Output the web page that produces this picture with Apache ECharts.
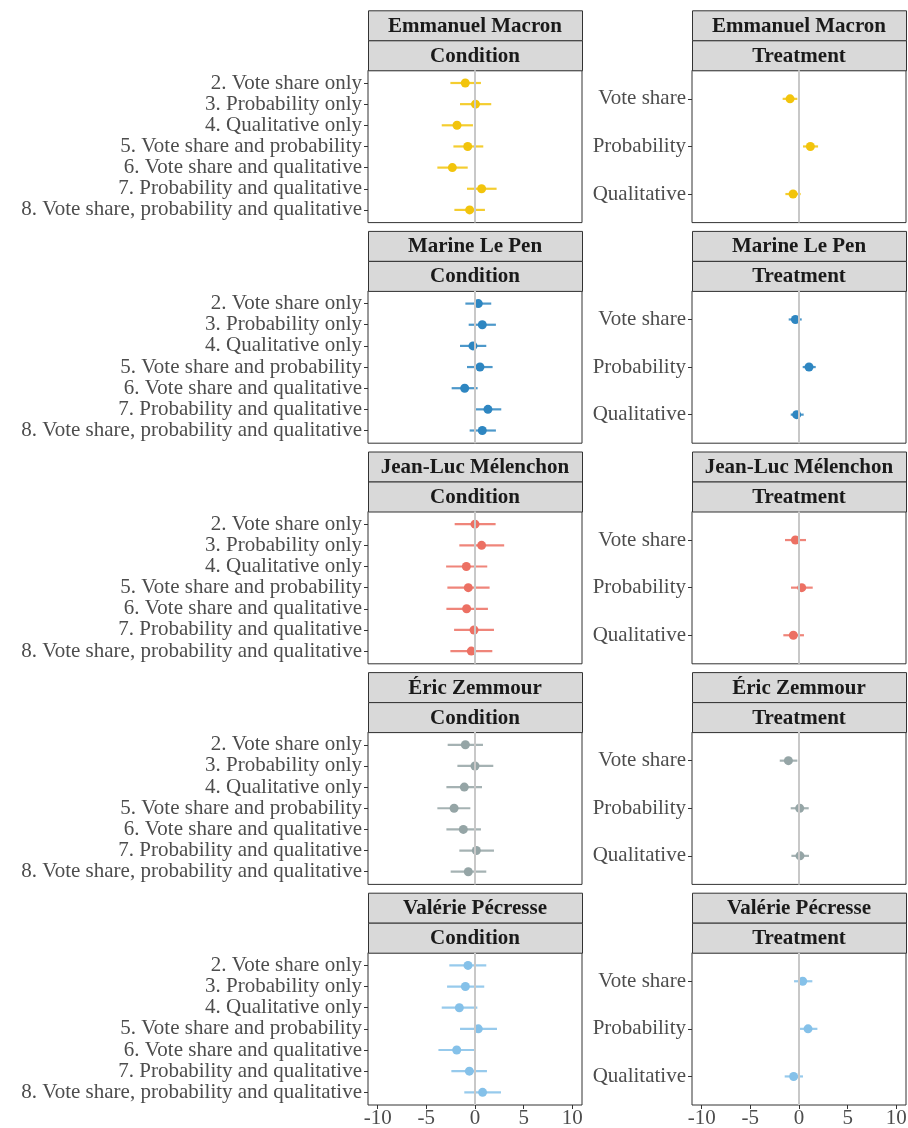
<!DOCTYPE html>
<html lang="en">
<head>
	<meta charset="UTF-8">
	<title>Condition / Treatment effects</title>
	<style>
	body, div {
		margin: 0;
		padding: 0;
	}
	#echart {
		width: 908px;
		height: 1128px;
		background: #fff;
	}
	</style>
</head>
<body>
	<div id="echart"></div>

	<script src="https://cdn.jsdelivr.net/npm/echarts@6/dist/echarts.min.js"></script>

	<script>
// ---- data ----
var candidates = ['Emmanuel Macron', 'Marine Le Pen', 'Jean-Luc Mélenchon', 'Éric Zemmour', 'Valérie Pécresse'];
var colors = ['#F2C40C', '#2E86C1', '#EC7063', '#95A5A6', '#85C1E9'];

var conditionLabels = [
	'2. Vote share only',
	'3. Probability only',
	'4. Qualitative only',
	'5. Vote share and probability',
	'6. Vote share and qualitative',
	'7. Probability and qualitative',
	'8. Vote share, probability and qualitative'
];
var treatmentLabels = ['Vote share', 'Probability', 'Qualitative'];
var xTicks = [-10, -5, 0, 5, 10];

// one row per candidate, same order as candidates
var condEst = [
	[-1.0, 0.05, -1.85, -0.75, -2.33, 0.68, -0.55],
	[0.34, 0.75, -0.21, 0.51, -1.06, 1.33, 0.75],
	[0.0, 0.68, -0.89, -0.69, -0.86, -0.1, -0.38],
	[-0.99, 0.0, -1.1, -2.15, -1.2, 0.14, -0.69],
	[-0.72, -0.99, -1.61, 0.34, -1.88, -0.58, 0.78]
];
var condLow = [
	[-2.53, -1.54, -3.42, -2.22, -3.87, -0.82, -2.12],
	[-0.99, -0.65, -1.54, -0.82, -2.4, 0.03, -0.55],
	[-2.09, -1.61, -2.97, -2.84, -2.94, -2.15, -2.53],
	[-2.81, -1.81, -2.94, -3.87, -2.94, -1.61, -2.5],
	[-2.64, -2.87, -3.42, -1.54, -3.76, -2.43, -1.1]
];
var condHigh = [
	[0.61, 1.67, -0.21, 0.85, -0.75, 2.22, 1.02],
	[1.67, 2.15, 1.16, 1.81, 0.27, 2.7, 2.15],
	[2.12, 3.0, 1.26, 1.5, 1.33, 1.95, 1.78],
	[0.82, 1.88, 0.72, -0.48, 0.61, 1.95, 1.16],
	[1.16, 0.95, 0.24, 2.26, 0.0, 1.23, 2.67]
];

var treatEst = [
	[-0.92, 1.17, -0.61],
	[-0.37, 1.03, -0.24],
	[-0.37, 0.28, -0.58],
	[-1.09, 0.07, 0.1],
	[0.38, 0.93, -0.55]
];
var treatLow = [
	[-1.68, 0.41, -1.4],
	[-1.06, 0.38, -0.85],
	[-1.44, -0.82, -1.61],
	[-1.98, -0.85, -0.78],
	[-0.51, 0.03, -1.47]
];
var treatHigh = [
	[-0.17, 1.96, 0.17],
	[0.28, 1.72, 0.48],
	[0.72, 1.41, 0.51],
	[-0.17, 1.0, 1.03],
	[1.37, 1.89, 0.41]
];

// ---- layout ----
var PANEL_TOP = 70.3;
var ROW_STEP = 220.6;
var PANEL_H = 152.3;
var STRIP_H = 30;
var PANEL_W = 214;
var COL_X = [368, 692];
var FONT = '"Liberation Serif", "DejaVu Serif", serif';

var myEchart = echarts.init(document.getElementById('echart'), null, { renderer: 'canvas' });

var grids = [], xAxes = [], yAxes = [], series = [], graphics = [];

function errorBars(idx, color, rows) {
	return {
		type: 'custom',
		xAxisIndex: idx,
		yAxisIndex: idx,
		z: 3,
		silent: true,
		encode: { x: [0, 1], y: 2 },
		data: rows,
		renderItem: function (params, api) {
			var a = api.coord([api.value(0), api.value(2)]);
			var b = api.coord([api.value(1), api.value(2)]);
			return {
				type: 'line',
				shape: { x1: a[0], y1: a[1], x2: b[0], y2: b[1] },
				style: { stroke: color, lineWidth: 2.2, opacity: 0.85 }
			};
		}
	};
}

candidates.forEach(function (name, r) {
	var top = PANEL_TOP + r * ROW_STEP;
	var bottomRow = r === candidates.length - 1;

	[0, 1].forEach(function (c) {
		var idx = r * 2 + c;
		var labels = c === 0 ? conditionLabels : treatmentLabels;
		var n = labels.length;
		var est = c === 0 ? condEst[r] : treatEst[r];
		var low = c === 0 ? condLow[r] : treatLow[r];
		var high = c === 0 ? condHigh[r] : treatHigh[r];
		var cats = labels.map(function (l, i) { return i + 1; });

		grids.push({
			left: COL_X[c],
			top: top,
			width: PANEL_W,
			height: PANEL_H,
			outerBoundsMode: 'none',
			show: true,
			borderColor: '#333333',
			borderWidth: 1,
			backgroundColor: '#fff'
		});

		xAxes.push({
			gridIndex: idx,
			type: 'value',
			min: -11,
			max: 11,
			axisLine: { show: false, onZero: false },
			splitLine: { show: false },
			axisTick: {
				show: bottomRow,
				customValues: xTicks,
				length: 4,
				lineStyle: { color: '#333333' }
			},
			axisLabel: {
				show: bottomRow,
				customValues: xTicks,
				showMinLabel: true,
				showMaxLabel: true,
				margin: 3,
				color: '#4D4D4D',
				fontFamily: FONT,
				fontSize: 21
			}
		});

		yAxes.push({
			gridIndex: idx,
			type: 'value',
			min: 0.4,
			max: n + 0.6,
			inverse: true,
			axisLine: { show: false, onZero: false },
			splitLine: { show: false },
			axisTick: {
				show: true,
				customValues: cats,
				length: 4,
				lineStyle: { color: '#333333' }
			},
			axisLabel: {
				customValues: cats,
				showMinLabel: true,
				showMaxLabel: true,
				margin: 6,
				color: '#4D4D4D',
				fontFamily: FONT,
				fontSize: 21,
				formatter: function (v) { return labels[Math.round(v) - 1]; }
			}
		});

		// zero reference line
		series.push({
			type: 'scatter',
			xAxisIndex: idx,
			yAxisIndex: idx,
			data: [],
			z: 1,
			silent: true,
			markLine: {
				silent: true,
				symbol: 'none',
				label: { show: false },
				lineStyle: { color: '#C8C8C8', width: 2, type: 'solid' },
				data: [{ xAxis: 0 }]
			}
		});

		series.push(errorBars(idx, colors[r], cats.map(function (k, i) {
			return [low[i], high[i], k];
		})));

		series.push({
			type: 'scatter',
			xAxisIndex: idx,
			yAxisIndex: idx,
			z: 4,
			silent: true,
			symbolSize: 9,
			itemStyle: { color: colors[r], opacity: 1 },
			data: cats.map(function (k, i) { return [est[i], k]; })
		});

		// facet strips
		var stripText = [name, c === 0 ? 'Condition' : 'Treatment'];
		stripText.forEach(function (t, s) {
			var y = top - STRIP_H * (2 - s);
			graphics.push({
				type: 'rect',
				silent: true,
				shape: { x: COL_X[c] + 0.5, y: y + 0.5, width: PANEL_W, height: STRIP_H },
				style: { fill: '#D9D9D9', stroke: '#333333', lineWidth: 1 }
			});
			graphics.push({
				type: 'text',
				silent: true,
				x: COL_X[c] + PANEL_W / 2,
				y: y + STRIP_H / 2 + 1,
				style: {
					text: t,
					fill: '#1A1A1A',
					font: 'bold 21px ' + FONT,
					align: 'center',
					verticalAlign: 'middle'
				}
			});
		});
	});
});

var option = {
	animation: false,
	backgroundColor: '#ffffff',
	grid: grids,
	xAxis: xAxes,
	yAxis: yAxes,
	series: series,
	graphic: graphics
};

myEchart.setOption(option);
	</script>
</body>
</html>
